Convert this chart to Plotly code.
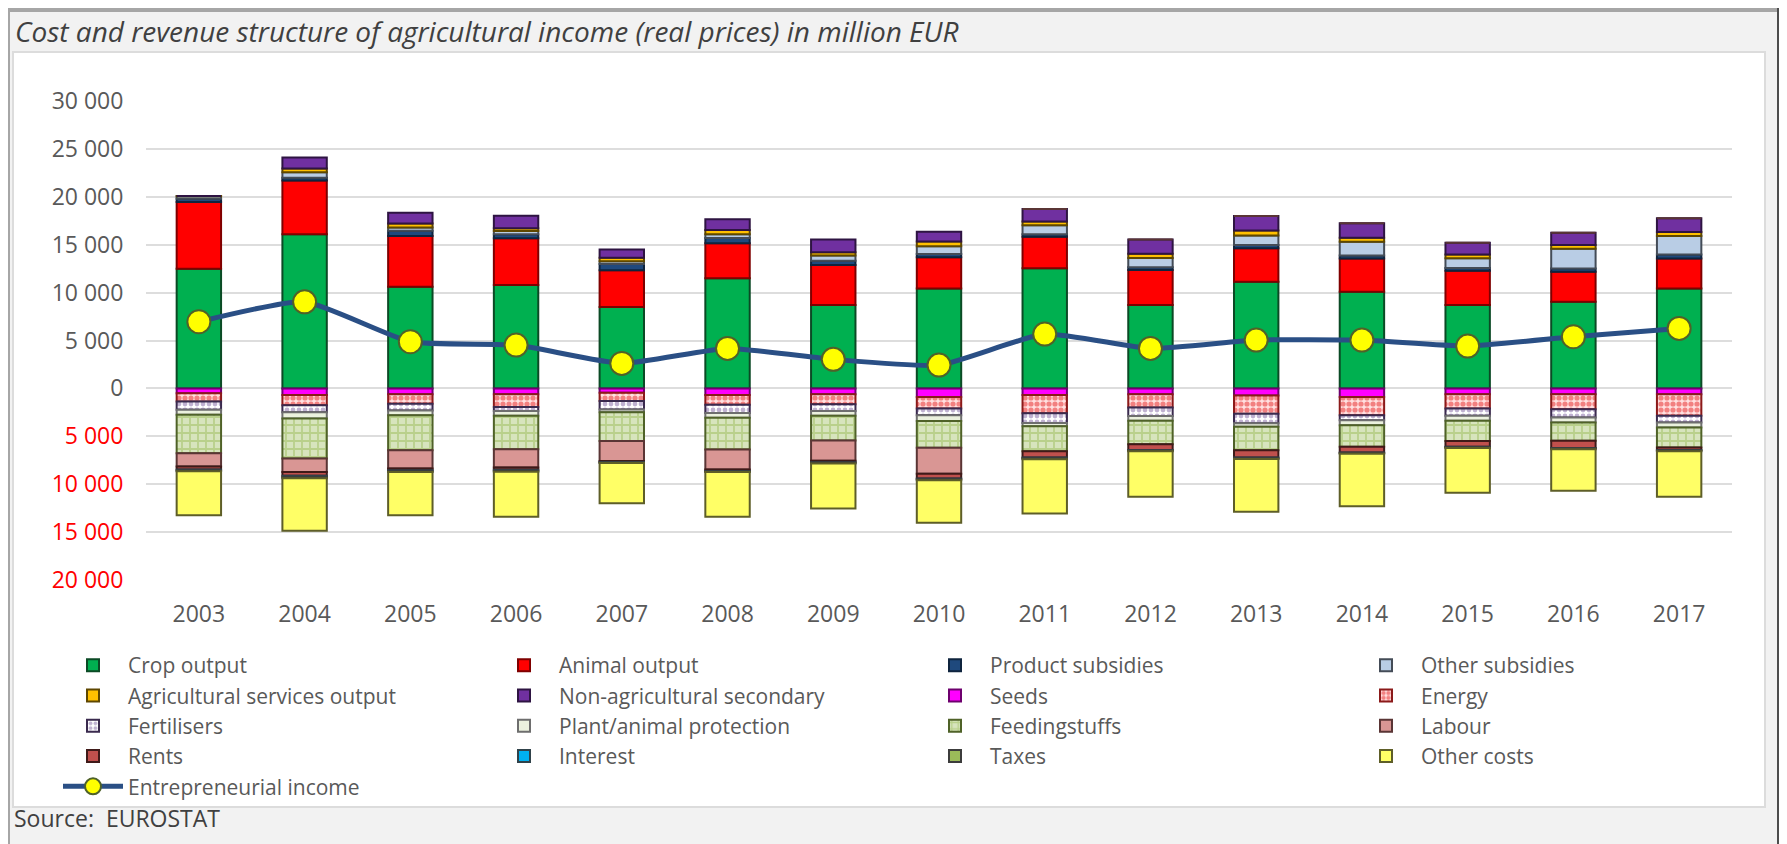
import plotly.graph_objects as go

years = ["2003", "2004", "2005", "2006", "2007", "2008", "2009", "2010",
         "2011", "2012", "2013", "2014", "2015", "2016", "2017"]

# ---- revenue side (million EUR) ----
crop_output = [12500, 16100, 10600, 10800, 8500, 11500, 8700, 10440, 12530, 8700, 11130, 10090, 8700, 9040, 10440]
animal_output = [6950, 5600, 5300, 4880, 3830, 3660, 4170, 3240, 3300, 3650, 3490, 3480, 3580, 3130, 3130]
product_subsidies = [350, 300, 550, 400, 650, 550, 450, 350, 250, 300, 350, 300, 300, 350, 400]
other_subsidies = [250, 550, 350, 350, 300, 380, 550, 800, 950, 950, 1000, 1450, 1000, 2050, 1950]
agri_services = [30, 400, 400, 300, 350, 450, 350, 500, 400, 450, 500, 400, 400, 400, 400]
non_agri_secondary = [0, 1150, 1140, 1280, 860, 1120, 1330, 1020, 1290, 1500, 1520, 1510, 1220, 1280, 1430]

# ---- cost side (million EUR, shown below zero) ----
seeds = [500, 700, 600, 600, 450, 700, 600, 900, 700, 600, 750, 900, 600, 600, 600]
energy = [870, 1050, 1000, 1350, 870, 1000, 1050, 1200, 1900, 1400, 1900, 1900, 1500, 1570, 2260]
fertilisers = [870, 750, 700, 400, 870, 870, 700, 700, 1000, 870, 1000, 520, 760, 870, 700]
plant_protection = [520, 650, 500, 500, 300, 500, 500, 600, 350, 500, 350, 520, 520, 520, 520]
feedingstuffs = [4000, 4180, 3650, 3500, 3000, 3300, 2600, 2800, 2600, 2450, 2450, 2260, 2100, 1900, 2100]
labour = [1400, 1400, 1900, 1900, 2100, 2100, 2100, 2700, 0, 0, 0, 0, 0, 0, 0]
rents = [300, 400, 200, 250, 100, 150, 150, 500, 650, 600, 750, 600, 600, 750, 250]
interest = [100, 150, 100, 100, 50, 50, 50, 80, 100, 50, 80, 50, 50, 50, 50]
taxes = [100, 100, 80, 100, 60, 50, 80, 100, 100, 80, 100, 80, 80, 80, 80]
other_costs = [4570, 5490, 4500, 4700, 4200, 4680, 4700, 4450, 5650, 4760, 5500, 5460, 4690, 4350, 4750]

entrepreneurial_income = [6960, 9040, 4870, 4520, 2610, 4170, 3030, 2430, 5670, 4170, 5040, 5040, 4420, 5390, 6260]

y_tick_values = [30000, 25000, 20000, 15000, 10000, 5000, 0, -5000, -10000, -15000, -20000]
y_tick_labels = ["30 000", "25 000", "20 000", "15 000", "10 000", "5 000", "0",
                 "5 000", "10 000", "15 000", "20 000"]

# ---- styling ----
FONT = "Open Sans"
TXT = "#595959"

revenue_series = [
    ("Crop output", crop_output, "#00B050", "#0B4A25", None),
    ("Animal output", animal_output, "#FF0000", "#7F0000", None),
    ("Product subsidies", product_subsidies, "#1F497D", "#0F243E", None),
    ("Other subsidies", other_subsidies, "#B9CDE5", "#444C57", None),
    ("Agricultural services output", agri_services, "#FFC000", "#5E4700", None),
    ("Non-agricultural secondary", non_agri_secondary, "#7030A0", "#2E1442", None),
]
cost_series = [
    ("Seeds", seeds, "#FF00FF", "#6E006E", None),
    ("Energy", energy, "#FFE0E0", "#8B1A1A", dict(shape=".", fgcolor="#E52020", size=6, solidity=0.6)),
    ("Fertilisers", fertilisers, "#FFFFFF", "#3A2A4E", dict(shape=".", fgcolor="#8064A2", size=6, solidity=0.5)),
    ("Plant/animal protection", plant_protection, "#EBF1DE", "#6E6E6E", None),
    ("Feedingstuffs", feedingstuffs, "#D7E4BD", "#4F6228", dict(shape="+", fgcolor="#9BBB59", size=8, solidity=0.4)),
    ("Labour", labour, "#D99694", "#5A3535", None),
    ("Rents", rents, "#C0504D", "#3F1A19", None),
    ("Interest", interest, "#00B0F0", "#30424A", None),
    ("Taxes", taxes, "#9BBB59", "#3C3C3C", None),
    ("Other costs", other_costs, "#FFFF66", "#5E5E28", None),
]

fig = go.Figure()

for name, vals, fill, edge, pattern in revenue_series:
    marker = dict(color=fill, line=dict(color=edge, width=2))
    if pattern:
        marker["pattern"] = pattern
    fig.add_trace(go.Bar(x=years, y=vals, name=name, marker=marker, width=0.42))

for name, vals, fill, edge, pattern in cost_series:
    marker = dict(color=fill, line=dict(color=edge, width=2))
    if pattern:
        marker["pattern"] = pattern
    fig.add_trace(go.Bar(x=years, y=[-v for v in vals], name=name, marker=marker, width=0.42))

fig.add_trace(go.Scatter(
    x=years, y=entrepreneurial_income, name="Entrepreneurial income",
    mode="lines+markers",
    line=dict(color="#2A4F85", width=5, shape="spline", smoothing=0.5),
    marker=dict(color="#FFFF00", size=23, line=dict(color="#4F6228", width=2)),
))

# geometry: the page body has an 8px margin, so the figure is 8px smaller
OFF = 8
W, H = 1787 - OFF, 844 - OFF
ML, MT = 146 - OFF, 101 - OFF
PW, PH = 1586, 479
MR, MB = W - ML - PW, H - MT - PH


def px(x_page):
    return (x_page - OFF - ML) / PW


def py(y_page):
    return (MT + PH - (y_page - OFF)) / PH


shapes = [
    dict(type="rect", xref="paper", yref="paper", x0=px(13), x1=px(1765), y0=py(52), y1=py(807),
         fillcolor="#FFFFFF", line=dict(color="#DCDCDC", width=2), layer="below"),
    dict(type="rect", xref="paper", yref="paper", x0=px(0), x1=px(1783), y0=py(4), y1=py(12),
         fillcolor="#A6A6A6", line=dict(width=0), layer="below"),
    dict(type="rect", xref="paper", yref="paper", x0=px(0), x1=px(10), y0=py(4), y1=py(850),
         fillcolor="#A6A6A6", line=dict(width=0), layer="below"),
    dict(type="rect", xref="paper", yref="paper", x0=px(1777), x1=px(1781), y0=py(8), y1=py(850),
         fillcolor="#4D4D4D", line=dict(width=0), layer="below"),
]

tick_text = []
for v, lab in zip(y_tick_values, y_tick_labels):
    if v < 0:
        tick_text.append('<span style="color:#FF0000">' + lab + '</span>')
    else:
        tick_text.append(lab)

fig.update_layout(
    width=W, height=H,
    margin=dict(l=ML, r=MR, t=MT, b=MB),
    paper_bgcolor="#F2F2F2",
    plot_bgcolor="rgba(0,0,0,0)",
    barmode="relative",
    font=dict(family=FONT, color=TXT, size=21),
    shapes=shapes,
    showlegend=True,
    legend=dict(
        orientation="h", xref="paper", yref="paper",
        x=px(58), y=py(645), xanchor="left", yanchor="top",
        itemwidth=60, entrywidth=356, entrywidthmode="pixels",
        font=dict(family=FONT, size=21, color=TXT),
        bgcolor="rgba(0,0,0,0)", traceorder="normal", tracegroupgap=0,
        itemclick=False, itemdoubleclick=False,
    ),
    annotations=[
        dict(text="Cost and revenue structure of agricultural income (real prices) in million EUR",
             xref="paper", yref="paper", x=px(13), y=py(31), xanchor="left", yanchor="middle",
             showarrow=False, font=dict(family=FONT, size=28, color="#404040", style="italic")),
        dict(text="Source:  EUROSTAT", xref="paper", yref="paper", x=px(12), y=py(818),
             xanchor="left", yanchor="middle", showarrow=False,
             font=dict(family=FONT, size=23, color="#404040")),
    ],
    hovermode=False,
)

fig.update_xaxes(
    type="category", range=[-0.5, len(years) - 0.5],
    showgrid=False, zeroline=False, showline=False,
    ticks="outside", ticklen=13, tickcolor="rgba(0,0,0,0)",
    tickfont=dict(family=FONT, size=23, color=TXT),
)
fig.update_yaxes(
    range=[-20000, 30000], tickmode="array", tickvals=y_tick_values, ticktext=tick_text,
    showgrid=True, gridcolor="#DDDDDD", gridwidth=2,
    zeroline=True, zerolinecolor="#DDDDDD", zerolinewidth=2, showline=False,
    ticks="outside", ticklen=17, tickcolor="rgba(0,0,0,0)",
    tickfont=dict(family=FONT, size=23, color=TXT),
)

fig.write_html("out.html")
